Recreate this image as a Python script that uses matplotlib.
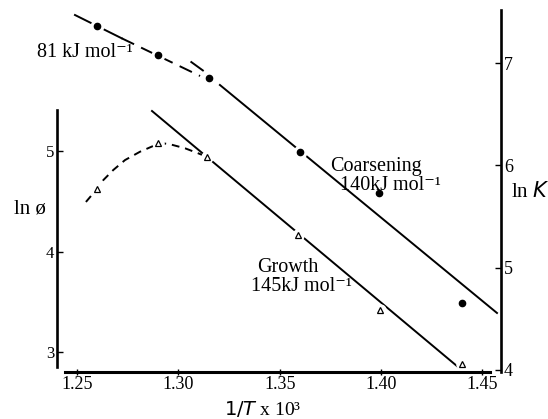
import numpy as np
import matplotlib
matplotlib.use("Agg")
import matplotlib.pyplot as plt

plt.rcParams['font.family'] = ['Liberation Serif', 'DejaVu Serif']
plt.rcParams['mathtext.fontset'] = 'custom'
plt.rcParams['mathtext.rm'] = 'Liberation Serif'
plt.rcParams['mathtext.it'] = 'DejaVu Sans:italic'
plt.rcParams['mathtext.sf'] = 'DejaVu Sans'

# coarsening rate constant, ln K (right axis)
coarse_x = [1.260, 1.290, 1.315, 1.360, 1.399, 1.440]
coarse_lnk = [7.36, 7.08, 6.85, 6.13, 5.73, 4.65]

# 140 kJ/mol fit line, and the short dash above it
coarse_fit_x = [1.3205, 1.4572]
coarse_fit_lnk = [6.786, 4.557]
coarse_ext_x = [1.3064, 1.3121]
coarse_ext_lnk = [7.010, 6.928]

# 81 kJ/mol line: solid part then dashed part
low_solid_x = [1.2490, 1.2721]
low_solid_lnk = [7.470, 7.242]
low_dash_x = [1.2721, 1.3107]
low_dash_lnk = [7.242, 6.874]

# growth, ln phi (left axis)
growth_x = [1.260, 1.290, 1.314, 1.359, 1.3995, 1.440]
growth_lnphi = [4.62, 5.08, 4.94, 4.16, 3.42, 2.88]

growth_fit_x = [1.2870, 1.4380]
growth_fit_lnphi = [5.398, 2.851]

# hand drawn dashed curve through the high temperature growth points
curve_x = [1.2544, 1.2597, 1.2630, 1.2679, 1.2737, 1.2811, 1.2876, 1.2901,
           1.2959, 1.3033, 1.3098, 1.3140]
curve_lnphi = [4.493, 4.619, 4.711, 4.811, 4.910, 4.993, 5.050, 5.083,
               5.067, 5.027, 4.977, 4.943]

x_ticks = [1.25, 1.30, 1.35, 1.40, 1.45]
x_ticklabels = ['1.25', '1.30', '1.35', '1.40', '1.45']
phi_ticks = [3, 4, 5]
k_ticks = [4, 5, 6, 7]

W, H = 548, 419
fig = plt.figure(figsize=(W / 100, H / 100), dpi=100)
ax = fig.add_axes([57 / W, 1 - 372 / H, 444 / W, 362 / H])
ax2 = ax.twinx()

ax.set_xlim(1.24013, 1.45918)
ax.set_ylim(2.801, 6.403)
ax2.set_ylim(3.980, 7.519)

lw = 1.4

# growth lines and points
ax.plot(curve_x, curve_lnphi, color='black', lw=lw, ls=(0, (4, 3)))
ax.plot(growth_fit_x, growth_fit_lnphi, color='black', lw=lw)
ax.plot(growth_x, growth_lnphi, ls='none', marker='o', ms=8, mfc='white', mec='white')
ax.plot(growth_x, growth_lnphi, ls='none', marker='^', ms=4.2, mfc='white',
        mec='black', mew=0.9)

# coarsening lines and points
ax2.plot(low_solid_x, low_solid_lnk, color='black', lw=lw)
ax2.plot(low_dash_x, low_dash_lnk, color='black', lw=lw, ls=(0, (7, 4)))
ax2.plot(coarse_fit_x, coarse_fit_lnk, color='black', lw=lw)
ax2.plot(coarse_ext_x, coarse_ext_lnk, color='black', lw=lw)
ax2.plot(coarse_x, coarse_lnk, ls='none', marker='o', ms=9, mfc='white', mec='white')
ax2.plot(coarse_x, coarse_lnk, ls='none', marker='o', ms=4.5, color='black')

# spines
for s in ['top', 'right']:
    ax.spines[s].set_visible(False)
for s in ['top', 'left', 'bottom']:
    ax2.spines[s].set_visible(False)
ax.spines['left'].set_linewidth(1.9)
ax.spines['bottom'].set_linewidth(2.2)
ax2.spines['right'].set_linewidth(1.9)
ax.spines['left'].set_bounds(2.851, 5.408)
ax.spines['bottom'].set_bounds(1.2441, 1.4537)

ax.set_xticks(x_ticks)
ax.set_xticklabels(x_ticklabels)
ax.set_yticks(phi_ticks)
ax2.set_yticks(k_ticks)
ax.tick_params(axis='x', direction='inout', length=4, width=1, pad=1, labelsize=13)
ax.tick_params(axis='y', direction='in', length=4, width=1, pad=2, labelsize=12)
ax2.tick_params(axis='y', direction='in', length=4, width=1, pad=2, labelsize=13)


def px(x, y):
    return x / W, 1 - y / H


fs = 14.5
fig.text(*px(37, 57), '81 kJ mol⁻¹', fontsize=fs, va='baseline')
fig.text(*px(330, 171), 'Coarsening', fontsize=fs, va='baseline')
fig.text(*px(340, 190), '140kJ mol⁻¹', fontsize=fs, va='baseline')
fig.text(*px(257, 272), 'Growth', fontsize=fs, va='baseline')
fig.text(*px(251, 291), '145kJ mol⁻¹', fontsize=fs, va='baseline')
fig.text(*px(14, 214), 'ln ø', fontsize=15, va='baseline')
fig.text(*px(511, 197), r'ln $K$', fontsize=15, va='baseline')
fig.text(*px(263, 409), r'$\mathsf{1/}T$ x 10³', fontsize=14, va='center', ha='center')

fig.savefig('out.png', dpi=100)
